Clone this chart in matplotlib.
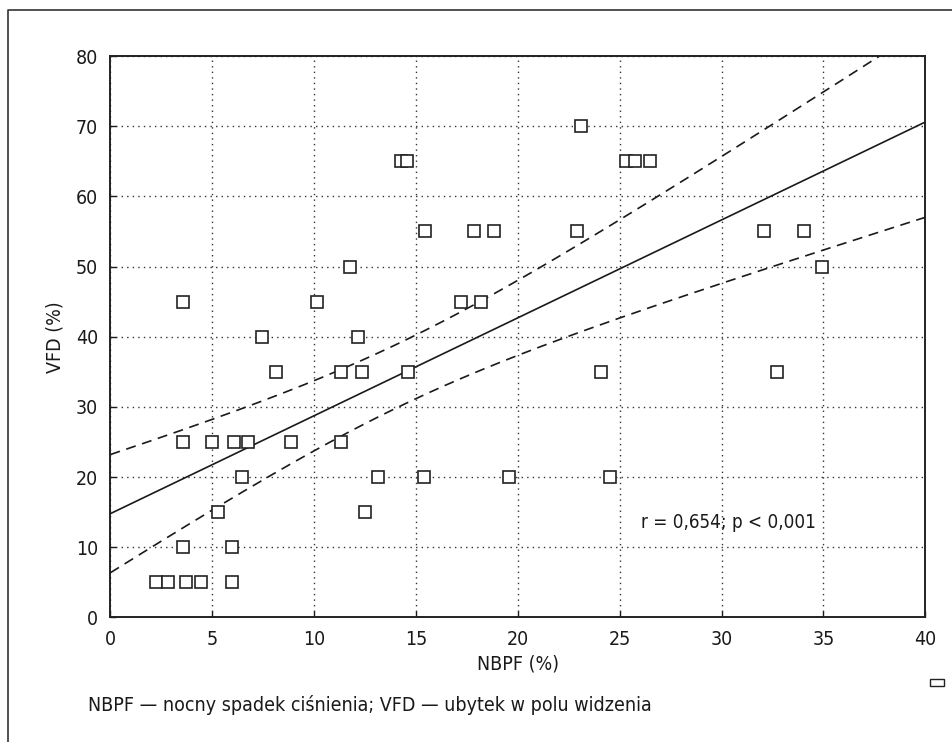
import numpy as np
import matplotlib
matplotlib.use("Agg")
import matplotlib.pyplot as plt
from matplotlib.lines import Line2D
from matplotlib.patches import Rectangle

plt.rcParams['font.family'] = ['DejaVu Sans']
plt.rcParams['font.stretch'] = 'condensed'

# NBPF (%) values
nbpf = [2.26, 2.85, 3.70, 4.47, 5.96,
        3.57, 5.96,
        5.29, 12.52,
        6.46, 13.15, 15.41, 19.55, 24.52,
        3.57, 4.99, 6.07, 6.77, 8.88, 11.33,
        8.13, 11.33, 12.33, 14.63, 24.08, 32.70,
        7.44, 12.15,
        3.57, 10.15, 17.20, 18.20,
        11.77, 34.93,
        15.43, 17.87, 18.81, 22.91, 32.09, 34.03,
        14.24, 14.57, 25.29, 25.73, 26.50,
        23.10]
# VFD (%) values
vfd = [5, 5, 5, 5, 5,
       10, 10,
       15, 15,
       20, 20, 20, 20, 20,
       25, 25, 25, 25, 25, 25,
       35, 35, 35, 35, 35, 35,
       40, 40,
       45, 45, 45, 45,
       50, 50,
       55, 55, 55, 55, 55, 55,
       65, 65, 65, 65, 65,
       70]

# regression line
fit_intercept = 14.8
fit_slope = 1.395

x_ticks = [0, 5, 10, 15, 20, 25, 30, 35, 40]
y_ticks = [0, 10, 20, 30, 40, 50, 60, 70, 80]
annotation = "r = 0,654; p < 0,001"
x_label = "NBPF (%)"
y_label = "VFD (%)"
footer = "NBPF \u2014 nocny spadek ciśnienia; VFD \u2014 ubytek w polu widzenia"

x = np.array(nbpf)
y = np.array(vfd)
n = len(x)
slope, intercept = np.polyfit(x, y, 1)
resid = y - (intercept + slope * x)
s = np.sqrt(np.sum(resid ** 2) / (n - 2))
xm = x.mean()
sxx = np.sum((x - xm) ** 2)
t_val = 2.015
xx = np.linspace(0, 40, 300)
yy = fit_intercept + fit_slope * xx
h = t_val * s * np.sqrt(1.0 / n + (xx - xm) ** 2 / sxx)

fig = plt.figure(figsize=(9.52, 7.42), dpi=100)
ax = fig.add_axes([0.116, 0.1678, 0.856, 0.7567])

ink = '#1a1a1a'
ax.plot(xx, yy, color=ink, lw=1.2, zorder=3)
ax.plot(xx, yy + h, color=ink, lw=1.2, ls=(0, (6, 4)), zorder=3)
ax.plot(xx, yy - h, color=ink, lw=1.2, ls=(0, (6, 4)), zorder=3)
ax.plot(x, y, ls='none', marker='s', ms=8, mfc='white', mec='#222222', mew=1.2, zorder=4)

ax.set_xlim(0, 40)
ax.set_ylim(0, 80)
ax.set_xticks(x_ticks)
ax.set_yticks(y_ticks)
ax.tick_params(direction='in', length=4, width=1, labelsize=14, pad=9, colors=ink)
ax.grid(True, ls=(0, (1, 3)), color='#333333', lw=1)
for sp in ax.spines.values():
    sp.set_linewidth(1.4)
    sp.set_color('#222222')
ax.set_xlabel(x_label, fontsize=14, labelpad=4, color=ink)
ax.set_ylabel(y_label, fontsize=14, labelpad=8, color=ink)
ax.text(26.05, 13.6, annotation, fontsize=13.5, va='center', ha='left', color=ink)

fig.text(88 / 952, 1 - 705 / 742, footer, fontsize=14, va='center', ha='left', color=ink)

# outer frame (left and top)
fig.add_artist(Line2D([8 / 952, 8 / 952, 1.0], [0.0, 1 - 10 / 742, 1 - 10 / 742],
                      transform=fig.transFigure, color='#333333', lw=1.2))
fig.add_artist(Rectangle((930 / 952, 1 - 686 / 742), 14 / 952, 7 / 742,
                         transform=fig.transFigure, fill=False, ec='#222222', lw=1))

fig.savefig("out.png", dpi=100)
